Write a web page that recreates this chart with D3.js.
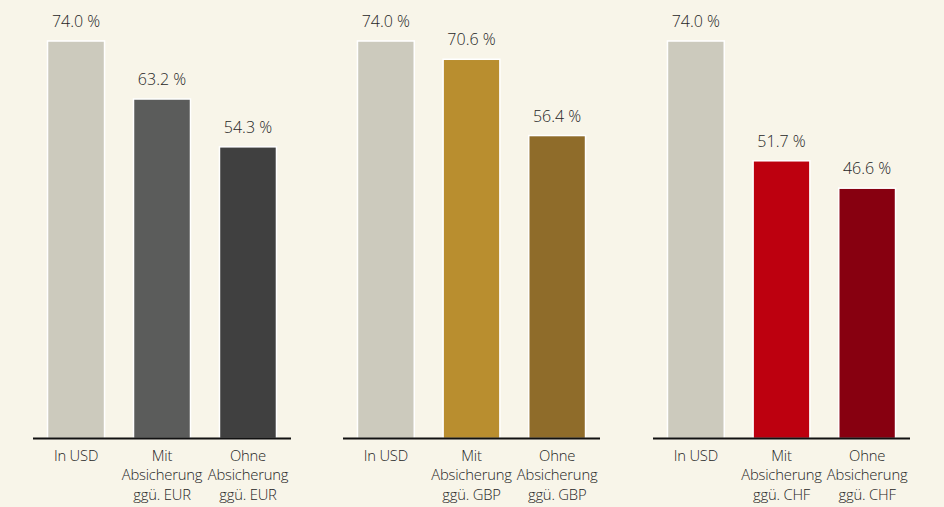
<!DOCTYPE html>
<html>
<head>
<meta charset="utf-8">
<script src="https://cdn.jsdelivr.net/npm/d3@7"></script>
<style>
  html, body { margin: 0; padding: 0; background: #f8f5e9; }
  svg { display: block; }
  text { font-family: "Open Sans", "Noto Sans", sans-serif; fill: #262626; font-weight: 300; }
</style>
</head>
<body>
<svg id="chart" width="944" height="507"></svg>
<script>
// Three panels: total return in USD vs. hedged / unhedged in a home currency
const panelCurrencies = ["EUR", "GBP", "CHF"];
const categoryLabels = [
  ["In USD"],
  ["Mit", "Absicherung", "ggü. {c}"],
  ["Ohne", "Absicherung", "ggü. {c}"]
];
const valuesEUR = [74.0, 63.2, 54.3];
const valuesGBP = [74.0, 70.6, 56.4];
const valuesCHF = [74.0, 51.7, 46.6];
const colorsEUR = ["#cccabd", "#5b5c5b", "#404040"];
const colorsGBP = ["#cccabd", "#b98e2f", "#8f6c2a"];
const colorsCHF = ["#cccabd", "#bd000f", "#870010"];

const panels = [
  { cur: panelCurrencies[0], values: valuesEUR, colors: colorsEUR, x0: 33, x1: 291 },
  { cur: panelCurrencies[1], values: valuesGBP, colors: colorsGBP, x0: 343, x1: 600 },
  { cur: panelCurrencies[2], values: valuesCHF, colors: colorsCHF, x0: 653, x1: 910 }
];

const svg = d3.select("#chart");
const baseY = 438.5;
const y = d3.scaleLinear().domain([0, 74]).range([baseY, 41]);

panels.forEach(p => {
  const g = svg.append("g");
  const x = d3.scaleBand()
    .domain(d3.range(3))
    .range([p.x0, p.x1])
    .paddingInner(0.337)
    .paddingOuter(0.169);

  g.selectAll("rect.bar")
    .data(p.values)
    .join("rect")
    .attr("class", "bar")
    .attr("x", (d, i) => x(i))
    .attr("y", d => y(d))
    .attr("width", x.bandwidth())
    .attr("height", d => baseY - y(d))
    .attr("fill", (d, i) => p.colors[i])
    .attr("stroke", "#ffffff")
    .attr("stroke-width", 1.5);

  g.selectAll("text.val")
    .data(p.values)
    .join("text")
    .attr("class", "val")
    .attr("x", (d, i) => x(i) + x.bandwidth() / 2)
    .attr("y", d => y(d) - 14)
    .attr("text-anchor", "middle")
    .style("font-size", "16px")
    .text(d => d.toFixed(1) + " %");

  // baseline axis
  g.append("line")
    .attr("x1", p.x0).attr("x2", p.x1)
    .attr("y1", baseY).attr("y2", baseY)
    .attr("stroke", "#111111")
    .attr("stroke-width", 2);

  const labels = g.selectAll("text.cat")
    .data(categoryLabels)
    .join("text")
    .attr("class", "cat")
    .attr("text-anchor", "middle")
    .style("font-size", "14.8px")
    .style("letter-spacing", "-0.2px")
    .attr("transform", (d, i) => `translate(${x(i) + x.bandwidth() / 2},0)`);

  labels.selectAll("tspan")
    .data(d => d)
    .join("tspan")
    .attr("x", 0)
    .attr("y", (d, j) => 460.5 + j * 19.5)
    .text(d => d.replace("{c}", p.cur));
});
</script>
</body>
</html>
